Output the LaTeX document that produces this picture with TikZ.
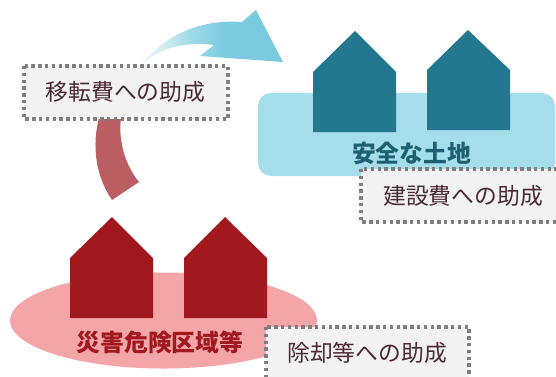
\documentclass[tikz,border=0pt]{standalone}
\usepackage{fontspec}
\setmainfont{Noto Sans CJK JP}
\definecolor{redhouse}{HTML}{A1181E}
\definecolor{redland}{HTML}{F4A5A8}
\definecolor{redarc}{HTML}{BC5F63}
\definecolor{bluehouse}{HTML}{23788F}
\definecolor{blueland}{HTML}{A5DDEB}
\definecolor{bluearrow}{HTML}{7ACBE0}
\definecolor{boxfill}{HTML}{F2F2F2}
\definecolor{boxline}{HTML}{7F7F7F}
\definecolor{boxtext}{HTML}{4A2A35}
\definecolor{fadeone}{HTML}{EAF6FA}
\definecolor{fadetwo}{HTML}{D8EEF4}
\definecolor{fadethree}{HTML}{A0DAE8}
\pgfdeclarehorizontalshading{arrowfade}{100bp}{color(0bp)=(fadeone); color(25bp)=(fadeone); color(31.7bp)=(fadetwo); color(42.3bp)=(fadethree); color(54.6bp)=(bluearrow); color(100bp)=(bluearrow)}
\tikzset{
  x=1pt,y=-1pt,
  boxframe/.style={fill=boxfill,draw=boxline,line width=3.6pt,dash pattern=on 3.4pt off 3.4pt},
  notetext/.style={text=boxtext,font=\fontsize{22.8}{26}\selectfont,inner sep=0pt},
  landlabel/.style={font=\fontsize{23.8}{26}\bfseries\selectfont,inner sep=0pt}
}
\begin{document}
\begin{tikzpicture}
\useasboundingbox (0,0) rectangle (556,376);
% blue swoosh
\shade[shading=arrowfade,shading angle=0]
 (141,65) .. controls (165,35) and (200,19) .. (242,22) -- (256,10) -- (283,62) -- (200,56) -- (214,45)
 .. controls (185,41) and (160,48) .. (141,65) -- cycle;
% red arc
\fill[redarc] (99,118) .. controls (92,145) and (95,175) .. (112,200) -- (139,182) .. controls (125,165) and (118,140) .. (121,118) -- cycle;
% blue land + houses
\fill[blueland,rounded corners=13pt] (258,93) rectangle (555,176);
\fill[bluehouse] (313,132) -- (313,72) -- (355,31) -- (396,72) -- (396,132) -- cycle;
\fill[bluehouse] (427,130) -- (427,70) -- (468,30) -- (510,70) -- (510,130) -- cycle;
\node[landlabel,text=bluehouse!80!black] (safe) at (411.5,153) {安全な土地};
% red land + houses
\fill[redland] (163.5,320.5) ellipse [x radius=153.5,y radius=48];
\fill[redhouse] (70,318) -- (70,258) -- (112,217) -- (153,258) -- (153,318) -- cycle;
\fill[redhouse] (184,318) -- (184,258) -- (225,217) -- (267,258) -- (267,318) -- cycle;
\node[landlabel,text=redhouse] (risk) at (160,342) {災害危険区域等};
% notes
\draw[boxframe] (24,66) rectangle (228,119);
\node[notetext] (move) at (125.5,92) {移転費への助成};
\draw[boxframe] (361,169) rectangle (590,222);
\node[notetext] (build) at (463,196) {建設費への助成};
\draw[boxframe] (266,327) rectangle (469,395);
\node[notetext] (clear) at (367,353) {除却等への助成};
\end{tikzpicture}
\end{document}
